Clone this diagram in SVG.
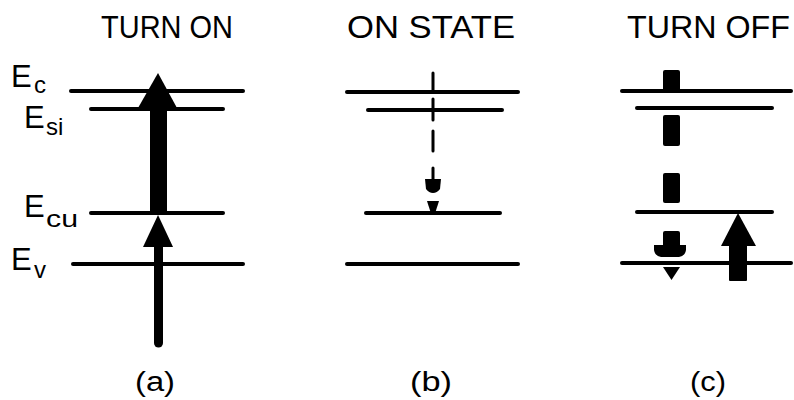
<svg xmlns="http://www.w3.org/2000/svg" width="794" height="400" viewBox="0 0 794 400">
<style>
.t{font-family:"Liberation Sans",Arial,sans-serif;fill:#000}
.title{font-size:31px}
.lab{font-size:27px}
.E{font-size:31px}
.sub{font-size:24px}
.lvl{stroke:#000;stroke-width:4;stroke-linecap:round;fill:none}
.dash{stroke:#000;stroke-width:3;stroke-linecap:round;fill:none}
.fill{fill:#000;stroke:none}
</style>
<rect width="794" height="400" fill="#fff"/>
<g id="titles">
<text class="t title" x="101" y="38" textLength="132" lengthAdjust="spacingAndGlyphs">TURN ON</text>
<text class="t title" x="347" y="38" textLength="168" lengthAdjust="spacingAndGlyphs">ON STATE</text>
<text class="t title" x="627" y="38" textLength="163" lengthAdjust="spacingAndGlyphs">TURN OFF</text>
</g>
<g id="energy-labels">
<g id="label-Ec"><text class="t E" x="11" y="87">E</text><text class="t sub" x="34" y="93">c</text></g>
<g id="label-Esi"><text class="t E" x="24" y="128">E</text><text class="t sub" x="46" y="135">si</text></g>
<g id="label-Ecu"><text class="t E" x="24" y="217">E</text><text class="t sub" x="46" y="227" textLength="32" lengthAdjust="spacingAndGlyphs">cu</text></g>
<g id="label-Ev"><text class="t E" x="11" y="270">E</text><text class="t sub" x="34" y="278">v</text></g>
</g>
<g id="panel-a">
<line class="lvl" x1="71" y1="91" x2="243" y2="91"/>
<line class="lvl" x1="91" y1="109" x2="223" y2="109"/>
<line class="lvl" x1="91" y1="213" x2="223" y2="213"/>
<line class="lvl" x1="73" y1="264" x2="243" y2="264"/>
</g>
<g id="panel-b">
<line class="lvl" x1="347" y1="92" x2="518" y2="92"/>
<line class="lvl" x1="368" y1="110" x2="502" y2="110"/>
<line class="lvl" x1="366" y1="213" x2="500" y2="213"/>
<line class="lvl" x1="347" y1="264" x2="518" y2="264"/>
</g>
<g id="panel-c">
<line class="lvl" x1="622" y1="91" x2="791" y2="91"/>
<line class="lvl" x1="637" y1="108" x2="772" y2="108"/>
<line class="lvl" x1="637" y1="212" x2="772" y2="212"/>
<line class="lvl" x1="622" y1="263" x2="791" y2="263"/>
</g>
<g id="connectors">
<g id="arrow-a-upper">
<rect class="fill" x="150" y="104" width="17" height="109"/>
<polygon class="fill" points="138,108 177,108 158,73"/>
</g>
<g id="arrow-a-lower">
<rect class="fill" x="154" y="244" width="9" height="99"/>
<circle class="fill" cx="158.5" cy="343" r="4.5"/>
<polygon class="fill" points="143,247 173,247 158,215"/>
</g>
<g id="arrow-b">
<line class="dash" x1="433" y1="73" x2="433" y2="92"/>
<line class="dash" x1="433" y1="99" x2="433" y2="120"/>
<line class="dash" x1="433" y1="131" x2="433" y2="151"/>
<line class="dash" x1="433" y1="168" x2="433" y2="180"/>
<path class="fill" d="M425,179 L441,179 L440,189 Q437,193 433,193 Q429,193 426,189 Z"/>
<polygon class="fill" points="427,201 439,201 435.5,212 430.5,212"/>
</g>
<g id="arrow-c-down">
<rect class="fill" x="663" y="70" width="17" height="21" rx="2"/>
<rect class="fill" x="663" y="115" width="17" height="31" rx="2"/>
<rect class="fill" x="663" y="173" width="17" height="30" rx="2"/>
<rect class="fill" x="663" y="231" width="17" height="16" rx="2"/>
<path class="fill" d="M654,245 L686,245 L686,250 Q685,256 679,257 L661,257 Q655,256 654,250 Z"/>
<polygon class="fill" points="663,267 680,267 671.5,280"/>
</g>
<g id="arrow-c-up">
<rect class="fill" x="729" y="243" width="18" height="38" rx="1"/>
<polygon class="fill" points="721,246 756,246 738,213"/>
</g>
</g>
<g id="panel-labels">
<text class="t lab" x="135" y="391" textLength="40" lengthAdjust="spacingAndGlyphs">(a)</text>
<text class="t lab" x="410" y="391" textLength="42" lengthAdjust="spacingAndGlyphs">(b)</text>
<text class="t lab" x="690" y="391" textLength="36" lengthAdjust="spacingAndGlyphs">(c)</text>
</g>
</svg>
